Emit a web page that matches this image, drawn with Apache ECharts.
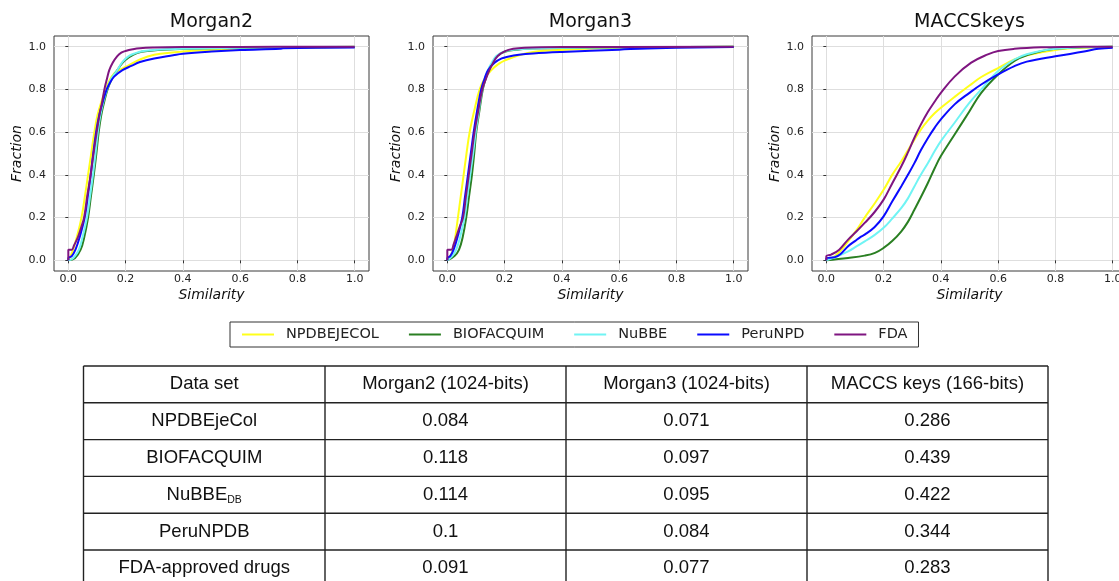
<!DOCTYPE html>
<html>
<head>
<meta charset="utf-8">
<script src="https://cdn.jsdelivr.net/npm/echarts@6/dist/echarts.min.js"></script>
<style>
  html, body { margin: 0; padding: 0; overflow: hidden; background: #fff; }
  #main { width: 1130px; height: 581px; }
</style>
</head>
<body>
<div id="main"></div>
<script>
// series names (legend order)
const seriesNames = ['NPDBEJECOL', 'BIOFACQUIM', 'NuBBE', 'PeruNPD', 'FDA']
const seriesColors = ['#ffff1a', '#2a7f22', '#70f4f4', '#0a0aff', '#7f1580']
const panelTitles = ['Morgan2', 'Morgan3', 'MACCSkeys']
const tickValues = [0, 0.2, 0.4, 0.6, 0.8, 1.0]

// Morgan2 cumulative curves [similarity, fraction]
const m2Npdb = [[0,0],[0.006,0.015],[0.017,0.05],[0.03,0.11],[0.046,0.2],[0.058,0.3],[0.069,0.4],[0.08,0.5],[0.091,0.6],[0.102,0.68],[0.115,0.74],[0.131,0.8],[0.145,0.845],[0.16,0.875],[0.177,0.89],[0.2,0.905],[0.25,0.94],[0.3,0.962],[0.4,0.978],[0.6,0.99],[0.8,0.996],[1.0,1.0]]
const m2Bio = [[0,0],[0.023,0.01],[0.043,0.05],[0.056,0.11],[0.069,0.2],[0.079,0.3],[0.089,0.4],[0.098,0.5],[0.106,0.6],[0.115,0.68],[0.125,0.74],[0.137,0.8],[0.152,0.85],[0.171,0.89],[0.19,0.925],[0.211,0.95],[0.24,0.97],[0.28,0.98],[0.35,0.987],[0.5,0.993],[1.0,0.998]]
const m2Nubbe = [[0,0],[0.012,0.005],[0.023,0.02],[0.037,0.05],[0.05,0.11],[0.065,0.2],[0.076,0.3],[0.086,0.4],[0.095,0.5],[0.103,0.6],[0.112,0.68],[0.122,0.74],[0.135,0.8],[0.15,0.85],[0.171,0.89],[0.19,0.93],[0.211,0.956],[0.235,0.97],[0.263,0.98],[0.3,0.985],[0.4,0.99],[0.6,0.995],[1.0,1.0]]
const m2Peru = [[0,0],[0,0.01],[0.012,0.02],[0.025,0.05],[0.04,0.11],[0.057,0.2],[0.068,0.3],[0.078,0.4],[0.087,0.5],[0.097,0.6],[0.108,0.68],[0.12,0.74],[0.134,0.8],[0.147,0.835],[0.16,0.86],[0.189,0.89],[0.22,0.91],[0.25,0.928],[0.3,0.945],[0.366,0.96],[0.4,0.967],[0.5,0.977],[0.6,0.984],[0.74,0.99],[0.75,0.993],[1.0,0.996]]
const m2Fda = [[0,0],[0,0.05],[0.012,0.05],[0.02,0.07],[0.034,0.11],[0.045,0.155],[0.055,0.2],[0.066,0.3],[0.078,0.4],[0.088,0.5],[0.099,0.6],[0.11,0.69],[0.118,0.74],[0.126,0.8],[0.135,0.85],[0.143,0.89],[0.155,0.925],[0.171,0.956],[0.185,0.972],[0.2,0.98],[0.225,0.988],[0.25,0.993],[0.3,0.996],[0.4,0.998],[0.6,0.999],[1.0,1.0]]

// Morgan3
const m3Npdb = [[0,0],[0.01,0.02],[0.02,0.05],[0.028,0.11],[0.037,0.2],[0.047,0.3],[0.057,0.4],[0.067,0.5],[0.078,0.6],[0.094,0.7],[0.113,0.8],[0.13,0.85],[0.153,0.89],[0.182,0.922],[0.2,0.935],[0.25,0.96],[0.3,0.975],[0.4,0.985],[0.6,0.995],[1.0,1.0]]
const m3Bio = [[0,0],[0.025,0.02],[0.041,0.05],[0.054,0.11],[0.066,0.2],[0.076,0.3],[0.086,0.4],[0.094,0.5],[0.101,0.6],[0.112,0.7],[0.124,0.8],[0.134,0.85],[0.145,0.89],[0.158,0.925],[0.174,0.956],[0.2,0.976],[0.25,0.987],[0.3,0.991],[0.5,0.996],[1.0,1.0]]
const m3Nubbe = [[0,0],[0.017,0.02],[0.031,0.05],[0.045,0.11],[0.06,0.2],[0.07,0.3],[0.08,0.4],[0.09,0.5],[0.099,0.6],[0.11,0.7],[0.122,0.8],[0.132,0.85],[0.142,0.89],[0.155,0.925],[0.171,0.956],[0.2,0.978],[0.25,0.988],[0.3,0.992],[0.5,0.996],[1.0,1.0]]
const m3Peru = [[0,0],[0,0.01],[0.01,0.02],[0.022,0.05],[0.036,0.11],[0.052,0.2],[0.062,0.3],[0.072,0.4],[0.082,0.5],[0.092,0.6],[0.104,0.7],[0.118,0.8],[0.13,0.85],[0.142,0.89],[0.165,0.925],[0.19,0.945],[0.211,0.953],[0.25,0.962],[0.3,0.968],[0.4,0.975],[0.6,0.986],[0.7,0.992],[1.0,0.998]]
const m3Fda = [[0,0],[0,0.05],[0.014,0.05],[0.022,0.075],[0.031,0.11],[0.044,0.16],[0.055,0.2],[0.065,0.3],[0.075,0.4],[0.085,0.5],[0.095,0.6],[0.108,0.7],[0.122,0.8],[0.135,0.85],[0.147,0.89],[0.16,0.925],[0.176,0.956],[0.2,0.978],[0.23,0.99],[0.27,0.995],[0.4,0.998],[1.0,1.0]]

// MACCS keys
const mkNpdb = [[0,0],[0.029,0.019],[0.05,0.045],[0.076,0.089],[0.105,0.14],[0.134,0.2],[0.168,0.265],[0.2,0.33],[0.23,0.4],[0.262,0.464],[0.285,0.515],[0.308,0.566],[0.33,0.612],[0.355,0.655],[0.378,0.688],[0.4,0.714],[0.448,0.765],[0.5,0.818],[0.541,0.858],[0.6,0.9],[0.657,0.94],[0.7,0.96],[0.8,0.985],[0.9,0.995],[1.0,1.0]]
const mkBio = [[0,0],[0.076,0.011],[0.134,0.022],[0.17,0.035],[0.2,0.058],[0.23,0.09],[0.262,0.136],[0.285,0.18],[0.308,0.238],[0.33,0.295],[0.355,0.363],[0.378,0.43],[0.4,0.488],[0.448,0.589],[0.5,0.698],[0.541,0.784],[0.6,0.87],[0.657,0.933],[0.7,0.96],[0.8,0.99],[1.0,1.0]]
const mkNubbe = [[0,0],[0.04,0.02],[0.076,0.042],[0.105,0.065],[0.134,0.089],[0.168,0.118],[0.2,0.152],[0.23,0.195],[0.262,0.245],[0.285,0.29],[0.308,0.347],[0.33,0.4],[0.355,0.456],[0.378,0.51],[0.4,0.558],[0.448,0.644],[0.5,0.738],[0.541,0.8],[0.6,0.886],[0.657,0.94],[0.7,0.965],[0.8,0.99],[1.0,1.0]]
const mkPeru = [[0,0],[0,0.01],[0.03,0.015],[0.05,0.03],[0.076,0.066],[0.1,0.09],[0.12,0.11],[0.134,0.12],[0.168,0.155],[0.2,0.206],[0.23,0.275],[0.262,0.347],[0.285,0.4],[0.308,0.456],[0.33,0.515],[0.355,0.573],[0.378,0.62],[0.4,0.66],[0.448,0.73],[0.5,0.784],[0.541,0.823],[0.6,0.87],[0.657,0.909],[0.7,0.93],[0.8,0.955],[0.9,0.977],[0.95,0.99],[1.0,0.995]]
const mkFda = [[0,0],[0,0.02],[0.017,0.027],[0.045,0.05],[0.076,0.097],[0.105,0.135],[0.134,0.175],[0.168,0.225],[0.2,0.284],[0.23,0.36],[0.262,0.44],[0.285,0.505],[0.308,0.575],[0.33,0.635],[0.355,0.695],[0.378,0.742],[0.4,0.784],[0.448,0.86],[0.506,0.925],[0.564,0.964],[0.6,0.98],[0.657,0.99],[0.75,0.997],[0.85,0.999],[1.0,1.0]]

// table
const tableHeader = ['Data set', 'Morgan2 (1024-bits)', 'Morgan3 (1024-bits)', 'MACCS keys (166-bits)']
const tableNames = ['NPDBEjeCol', 'BIOFACQUIM', 'NuBBE_DB', 'PeruNPDB', 'FDA-approved drugs']
const morgan2Median = ['0.084', '0.118', '0.114', '0.1', '0.091']
const morgan3Median = ['0.071', '0.097', '0.095', '0.084', '0.077']
const maccsMedian = ['0.286', '0.439', '0.422', '0.344', '0.283']

const panels = [
  [m2Npdb, m2Bio, m2Nubbe, m2Peru, m2Fda],
  [m3Npdb, m3Bio, m3Nubbe, m3Peru, m3Fda],
  [mkNpdb, mkBio, mkNubbe, mkPeru, mkFda]
]

const FONT = 'DejaVu Sans'
const gridLefts = [54, 433, 812]
const gridTop = 36, gridW = 315, gridH = 235

const grids = [], xAxes = [], yAxes = [], series = []
panels.forEach((curves, i) => {
  grids.push({
    left: gridLefts[i], top: gridTop, width: gridW, height: gridH,
    show: true, borderColor: '#3a3a3a', borderWidth: 1, backgroundColor: 'transparent'
  })
  const common = {
    gridIndex: i,
    type: 'value',
    min: -0.05,
    max: 1.05,
    axisLine: { show: false },
    axisTick: { show: true, inside: false, length: 3, lineStyle: { color: '#333' }, customValues: tickValues },
    splitLine: { show: true, lineStyle: { color: '#dedede', width: 1 } },
    axisLabel: {
      customValues: tickValues,
      formatter: v => v.toFixed(1),
      fontFamily: FONT, fontSize: 11, color: '#222'
    },
    nameLocation: 'middle',
    nameTextStyle: { fontFamily: FONT, fontStyle: 'italic', fontSize: 14, color: '#111' }
  }
  xAxes.push({ ...common, name: 'Similarity', nameGap: 17, axisLabel: { ...common.axisLabel, margin: 3 } })
  yAxes.push({ ...common, name: 'Fraction', nameGap: 30, axisLabel: { ...common.axisLabel, margin: 8 } })
  curves.forEach((data, k) => {
    series.push({
      name: seriesNames[k],
      type: 'line',
      xAxisIndex: i,
      yAxisIndex: i,
      data: data,
      showSymbol: false,
      symbol: 'none',
      smooth: 0.4,
      lineStyle: { width: 2, color: seriesColors[k] },
      itemStyle: { color: seriesColors[k] },
      z: 2 + k,
      animation: false
    })
  })
})

// titles
const graphics = panelTitles.map((t, i) => ({
  type: 'text',
  style: {
    text: t, x: gridLefts[i] + gridW / 2, y: 22,
    textAlign: 'center', align: 'center', textVerticalAlign: 'middle', verticalAlign: 'middle',
    font: '19px "DejaVu Sans"', fill: '#111'
  }
}))

// table drawing
const colEdges = [83.5, 325, 566, 807, 1048]
const rowTop = 366, rowH = 36.8, nRows = 6
const lineStyle = { stroke: '#222', lineWidth: 1.4 }
for (let r = 0; r <= nRows; r++) {
  const y = rowTop + r * rowH
  graphics.push({ type: 'line', shape: { x1: colEdges[0], y1: y, x2: colEdges[4], y2: y }, style: lineStyle })
}
colEdges.forEach(x => {
  graphics.push({ type: 'line', shape: { x1: x, y1: rowTop, x2: x, y2: rowTop + nRows * rowH }, style: lineStyle })
})
const tableCols = [tableNames, morgan2Median, morgan3Median, maccsMedian]
const cellText = (txt, c, r) => {
  const cx = (colEdges[c] + colEdges[c + 1]) / 2
  const cy = rowTop + r * rowH + rowH / 2
  const base = { x: cx, y: cy, textAlign: 'center', align: 'center', textVerticalAlign: 'middle', verticalAlign: 'middle', fill: '#111' }
  if (txt.indexOf('_') >= 0) {
    const parts = txt.split('_')
    return {
      type: 'text',
      style: {
        ...base,
        text: '{m|' + parts[0] + '}{s|' + parts[1] + '}',
        rich: {
          m: { fontFamily: 'Liberation Sans', fontSize: 18.5, fill: '#111', color: '#111' },
          s: { fontFamily: 'Liberation Sans', fontSize: 10.5, padding: [10, 0, 0, 0], fill: '#111', color: '#111' }
        }
      }
    }
  }
  return { type: 'text', style: { ...base, text: txt, font: '18.5px "Liberation Sans"' } }
}
tableHeader.forEach((h, c) => graphics.push(cellText(h, c, 0)))
tableCols.forEach((col, c) => {
  col.forEach((v, r) => graphics.push(cellText(v, c, r + 1)))
})

const chart = echarts.init(document.getElementById('main'))
chart.setOption({
  animation: false,
  grid: grids,
  xAxis: xAxes,
  yAxis: yAxes,
  legend: {
    data: seriesNames,
    left: 230,
    top: 322,
    orient: 'horizontal',
    icon: 'rect',
    itemWidth: 32,
    itemHeight: 2,
    itemGap: 30,
    padding: [5, 11, 5, 12],
    borderColor: '#333',
    borderWidth: 1,
    textStyle: { fontFamily: FONT, fontSize: 14.5, color: '#222', padding: [0, 0, 0, 7] },
    selectedMode: false
  },
  series: series,
  graphic: graphics
})
</script>
</body>
</html>
